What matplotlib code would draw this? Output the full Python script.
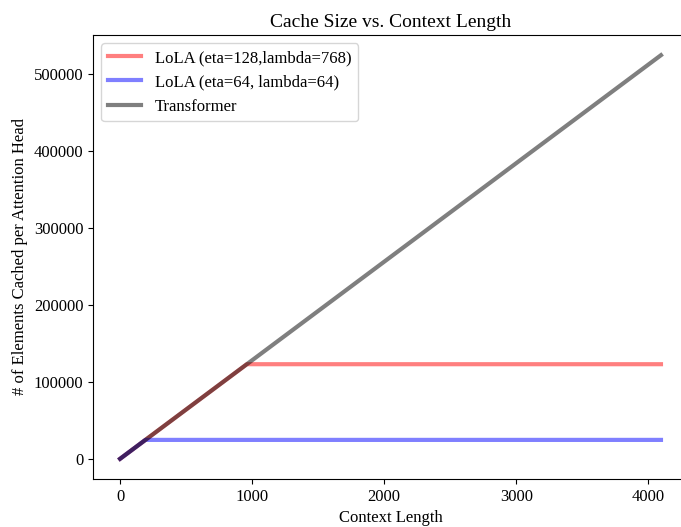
import matplotlib
matplotlib.use("Agg")
import matplotlib.pyplot as plt

plt.rcParams["font.family"] = ["Liberation Serif", "DejaVu Serif"]
plt.rcParams["font.size"] = 12

# context length breakpoints and cached elements per attention head
ctx_lola_big = [0, 960, 4096]
cache_lola_big = [0, 122880, 122880]

ctx_lola_small = [0, 192, 4096]
cache_lola_small = [0, 24576, 24576]

ctx_transformer = [0, 4096]
cache_transformer = [0, 524288]

fig = plt.figure(figsize=(6.81, 5.27), dpi=100)
ax = fig.add_axes([0.1366, 0.0911, 0.8737, 0.8425])

ax.plot(ctx_lola_big, cache_lola_big, color="red", alpha=0.5, linewidth=3,
        label="LoLA (eta=128,lambda=768)")
ax.plot(ctx_lola_small, cache_lola_small, color="blue", alpha=0.5, linewidth=3,
        label="LoLA (eta=64, lambda=64)")
ax.plot(ctx_transformer, cache_transformer, color="black", alpha=0.5, linewidth=3,
        label="Transformer")

ax.set_title("Cache Size vs. Context Length", fontsize=14)
ax.set_xlabel("Context Length")
ax.set_ylabel("# of Elements Cached per Attention Head")
ax.legend(loc="upper left")

fig.savefig("out.png", dpi=100)
